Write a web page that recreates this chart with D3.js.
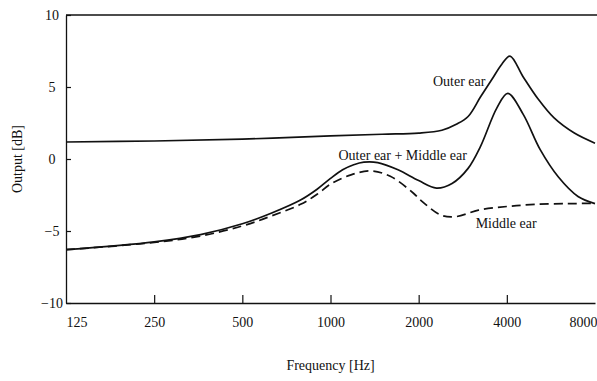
<!DOCTYPE html>
<html>
<head>
<meta charset="utf-8">
<script src="https://cdn.jsdelivr.net/npm/d3@7"></script>
<style>
  body { margin: 0; background: #fff; }
  svg, svg text { font-family: "Liberation Serif", "Times New Roman", Times, serif !important; }
  text { fill: #111; }
</style>
</head>
<body>
<div id="chart"></div>
<script>
// values
const outerFreq = [125, 250, 500, 1000, 1500, 2000, 2400, 2700, 2950, 3250, 3550, 3850, 4100, 4550, 5100, 5800, 6800, 8000];
const outerDb   = [1.18, 1.25, 1.38, 1.6, 1.72, 1.8, 2.0, 2.43, 2.95, 4.3, 5.5, 6.6, 7.15, 5.7, 4.2, 2.85, 1.8, 1.1];

const bothFreq = [125, 250, 360, 500, 630, 790, 900, 1000, 1100, 1200, 1300, 1450, 1700, 2000, 2300, 2600, 2950, 3250, 3700, 4030, 4550, 5200, 6000, 7000, 8000];
const bothDb   = [-6.3, -5.75, -5.25, -4.5, -3.75, -2.85, -2.1, -1.35, -0.75, -0.4, -0.22, -0.25, -0.75, -1.5, -2.02, -1.7, -0.65, 0.86, 3.55, 4.56, 3.1, 0.65, -1.25, -2.6, -3.1];

const middleFreq = [125, 250, 360, 500, 630, 790, 900, 1000, 1175, 1370, 1600, 1920, 2030, 2380, 2680, 3200, 4000, 5000, 6500, 8000];
const middleDb   = [-6.3, -5.8, -5.35, -4.65, -3.95, -3.15, -2.45, -1.75, -1.1, -0.83, -1.2, -2.38, -2.85, -3.89, -4.0, -3.55, -3.3, -3.15, -3.1, -3.08];

const xTicks = [125, 250, 500, 1000, 2000, 4000, 8000];
const yTicks = [-10, -5, 0, 5, 10];

const labels = [
  { text: "Outer ear", f: 3380, db: 5.1, anchor: "end" },
  { text: "Outer ear + Middle ear", f: 1065, db: -0.07, anchor: "start" },
  { text: "Middle ear", f: 3130, db: -4.8, anchor: "start" }
];

const width = 597, height = 381;
const margin = { top: 15, right: 2, bottom: 78, left: 66 };
const serif = '"Liberation Serif", "Times New Roman", Times, serif';

const svg = d3.select("#chart").append("svg")
  .attr("width", width)
  .attr("height", height)
  .attr("font-family", serif);

const x = d3.scaleLog().base(2)
  .domain([125, 8000])
  .range([margin.left, width - margin.right]);

const y = d3.scaleLinear()
  .domain([-10, 10])
  .range([height - margin.bottom, margin.top]);

// top frame line
svg.append("line")
  .attr("x1", margin.left).attr("x2", width)
  .attr("y1", y(10)).attr("y2", y(10))
  .attr("stroke", "#111").attr("stroke-width", 1.3);

const xAxis = svg.append("g")
  .attr("transform", `translate(0,${y(-10)})`)
  .call(d3.axisBottom(x).tickValues(xTicks).tickFormat(d3.format("d"))
    .tickSizeInner(-8).tickSizeOuter(0))
  .attr("font-family", serif);

xAxis.select(".domain").attr("stroke", "#111").attr("stroke-width", 1.3);
xAxis.selectAll(".tick line").attr("stroke", "#111").attr("stroke-width", 1.2)
  .filter(d => d == 125 || d == 8000).remove();
xAxis.selectAll(".tick text")
  .attr("y", 24).attr("dy", null)
  .attr("font-size", 14)
  .attr("fill", "#111")
  .attr("text-anchor", d => d == 125 ? "start" : d == 8000 ? "end" : "middle")
  .attr("x", d => d == 8000 ? 2 : 0);

const yAxis = svg.append("g")
  .attr("transform", `translate(${margin.left},0)`)
  .call(d3.axisLeft(y).tickValues(yTicks).tickSizeInner(-5).tickSizeOuter(0))
  .attr("font-family", serif);

yAxis.select(".domain").attr("stroke", "#111").attr("stroke-width", 1.3);
yAxis.selectAll(".tick line").attr("stroke", "#111").attr("stroke-width", 1.2);
yAxis.selectAll(".tick text")
  .attr("x", -14).attr("dy", "0.35em")
  .attr("text-anchor", "middle")
  .attr("font-size", 14)
  .attr("fill", "#111");

const line = d3.line()
  .x(d => x(d[0]))
  .y(d => y(d[1]))
  .curve(d3.curveCatmullRom.alpha(0.5));

const series = [
  { f: outerFreq, v: outerDb, dash: null },
  { f: bothFreq, v: bothDb, dash: null },
  { f: middleFreq, v: middleDb, dash: "9,5" }
];

svg.append("g").selectAll("path")
  .data(series)
  .join("path")
  .attr("fill", "none")
  .attr("stroke", "#111")
  .attr("stroke-width", 1.7)
  .attr("stroke-dasharray", d => d.dash)
  .attr("d", d => line(d3.zip(d.f, d.v)));

svg.append("g").selectAll("text")
  .data(labels)
  .join("text")
  .attr("x", d => x(d.f))
  .attr("y", d => y(d.db))
  .attr("text-anchor", d => d.anchor)
  .attr("font-size", 14)
  .text(d => d.text);

svg.append("text")
  .attr("x", (margin.left + width - margin.right) / 2)
  .attr("y", 370)
  .attr("text-anchor", "middle")
  .attr("font-size", 14)
  .text("Frequency [Hz]");

svg.append("text")
  .attr("transform", `translate(22,${y(0)}) rotate(-90)`)
  .attr("text-anchor", "middle")
  .attr("font-size", 14)
  .text("Output [dB]");
</script>
</body>
</html>
